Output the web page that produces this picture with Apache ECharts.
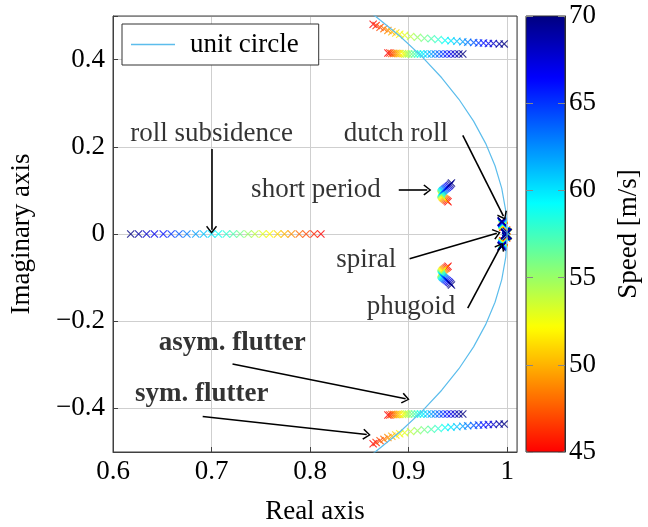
<!DOCTYPE html>
<html>
<head>
<meta charset="utf-8">
<script src="https://cdn.jsdelivr.net/npm/echarts@6/dist/echarts.min.js"></script>
<style>
  html, body { margin: 0; padding: 0; background: #fff; }
  #chart { width: 648px; height: 527px; }
</style>
</head>
<body>
<div id="chart"></div>
<script>
// speed of each computed point [m/s]
var speeds = [45, 46, 47, 48, 49, 50, 51, 52, 53, 54, 55, 56, 57, 58, 59, 60, 61, 62, 63, 64, 65, 66, 67, 68, 69, 70];

// eigenvalues per mode (real part, imaginary part), one per speed
var rollRe = [0.811, 0.804, 0.796, 0.789, 0.781, 0.774, 0.767, 0.759, 0.752, 0.744, 0.737, 0.729, 0.722,
              0.715, 0.707, 0.700, 0.692, 0.684, 0.675, 0.667, 0.659, 0.651, 0.642, 0.634, 0.626, 0.618];
var rollIm = [0, 0, 0, 0, 0, 0, 0, 0, 0, 0, 0, 0, 0, 0, 0, 0, 0, 0, 0, 0, 0, 0, 0, 0, 0, 0];

var symFlutRe = [0.864, 0.867, 0.871, 0.875, 0.879, 0.883, 0.887, 0.891, 0.896, 0.902, 0.909, 0.916, 0.923,
                 0.930, 0.937, 0.943, 0.949, 0.955, 0.960, 0.966, 0.971, 0.976, 0.981, 0.986, 0.992, 0.997];
var symFlutIm = [0.481, 0.478, 0.474, 0.471, 0.467, 0.464, 0.461, 0.458, 0.456, 0.453, 0.451, 0.449, 0.448,
                 0.446, 0.444, 0.443, 0.442, 0.441, 0.440, 0.439, 0.438, 0.438, 0.437, 0.437, 0.436, 0.436];

var asymFlutRe = [0.879, 0.881, 0.883, 0.885, 0.887, 0.889, 0.891, 0.894, 0.896, 0.898, 0.900, 0.903, 0.906,
                  0.909, 0.912, 0.915, 0.919, 0.923, 0.927, 0.931, 0.935, 0.939, 0.943, 0.947, 0.951, 0.955];
var asymFlutIm = [0.415, 0.415, 0.414, 0.414, 0.414, 0.414, 0.414, 0.414, 0.413, 0.413, 0.413, 0.413, 0.413,
                  0.413, 0.413, 0.413, 0.413, 0.413, 0.413, 0.413, 0.413, 0.413, 0.413, 0.413, 0.413, 0.413];

var shortRe = [0.9400, 0.9390, 0.9380, 0.9370, 0.9360, 0.9352, 0.9345, 0.9340, 0.9335, 0.9332, 0.9330, 0.9330, 0.9331,
               0.9333, 0.9337, 0.9342, 0.9348, 0.9355, 0.9363, 0.9372, 0.9382, 0.9393, 0.9404, 0.9415, 0.9425, 0.9435];
var shortIm = [0.0740, 0.0760, 0.0780, 0.0795, 0.0812, 0.0828, 0.0845, 0.0862, 0.0878, 0.0893, 0.0908, 0.0922, 0.0936,
               0.0950, 0.0964, 0.0978, 0.0992, 0.1006, 0.1020, 0.1036, 0.1053, 0.1072, 0.1093, 0.1115, 0.1140, 0.1170];

var dutchRe = [0.9962, 0.9962, 0.9961, 0.9961, 0.9960, 0.9960, 0.9959, 0.9959, 0.9958, 0.9957, 0.9957, 0.9956, 0.9955,
               0.9955, 0.9954, 0.9953, 0.9952, 0.9951, 0.9951, 0.9950, 0.9949, 0.9948, 0.9947, 0.9946, 0.9946, 0.9945];
var dutchIm = [0.0165, 0.0170, 0.0176, 0.0181, 0.0186, 0.0191, 0.0196, 0.0201, 0.0206, 0.0211, 0.0216, 0.0221, 0.0226,
               0.0231, 0.0236, 0.0241, 0.0246, 0.0251, 0.0256, 0.0261, 0.0266, 0.0271, 0.0276, 0.0281, 0.0285, 0.0290];

var phugRe = [0.9993, 0.9993, 0.9993, 0.9992, 0.9992, 0.9992, 0.9991, 0.9991, 0.9991, 0.9990, 0.9990, 0.9990, 0.9990,
              0.9989, 0.9989, 0.9989, 0.9989, 0.9988, 0.9988, 0.9988, 0.9987, 0.9987, 0.9987, 0.9986, 0.9986, 0.9986];
var phugIm = [0.0090, 0.0088, 0.0087, 0.0085, 0.0084, 0.0082, 0.0080, 0.0079, 0.0077, 0.0075, 0.0074, 0.0072, 0.0070,
              0.0069, 0.0067, 0.0065, 0.0064, 0.0062, 0.0061, 0.0059, 0.0058, 0.0056, 0.0054, 0.0053, 0.0051, 0.0050];

var spiralRe = [0.9996, 0.9996, 0.9996, 0.9995, 0.9995, 0.9995, 0.9995, 0.9994, 0.9994, 0.9994, 0.9994, 0.9993, 0.9993,
                0.9993, 0.9993, 0.9992, 0.9992, 0.9992, 0.9992, 0.9991, 0.9991, 0.9991, 0.9991, 0.9990, 0.9990, 0.9990];
var spiralIm = [0, 0, 0, 0, 0, 0, 0, 0, 0, 0, 0, 0, 0, 0, 0, 0, 0, 0, 0, 0, 0, 0, 0, 0, 0, 0];

// unit circle, sampled by angle in degrees
var circleDeg = [-36, -33, -30, -27, -24, -21, -18, -15, -12, -9, -6, -3, 0, 3, 6, 9, 12, 15, 18, 21, 24, 27, 30, 33, 36];

// annotations
var noteText = ['roll subsidence', 'dutch roll', 'short period', 'spiral', 'phugoid', 'asym. flutter', 'sym. flutter'];
var noteBold = [false, false, false, false, false, true, true];
var notePos = [[0.700, 0.229], [0.887, 0.229], [0.806, 0.102], [0.857, -0.060], [0.9025, -0.167], [0.721, -0.250], [0.690, -0.367]];
var arrowFrom = [[0.700, 0.195], [0.955, 0.226], [0.890, 0.101], [0.901, -0.057], [0.960, -0.170], [0.7213, -0.298], [0.691, -0.4185]];
var arrowTo = [[0.700, 0.010], [0.9962, 0.041], [0.919, 0.101], [0.9895, 0.0015], [0.9935, -0.028], [0.897, -0.378], [0.8575, -0.460]];

var jet = ['#ff0000', '#ff8000', '#ffff00', '#80ff80', '#00ffff', '#0080ff', '#0000ff', '#000080'];
var crossPath = 'path://M0,1L1,0L10,9L9,10ZM9,0L10,1L1,10L0,9Z';
var arrowHead = 'path://M5,0L10,6.5L9,7.5L5,2L1,7.5L0,6.5Z';
var FONT = 'Liberation Serif';
var FS = 27;

function pts(re, im, sign) {
    var out = [];
    for (var i = 0; i < speeds.length; i++) {
        out.push([re[i], sign * im[i], speeds[i]]);
    }
    return out;
}
function withConj(re, im) {
    return pts(re, im, 1).concat(pts(re, im, -1));
}
function fmt(v) {
    var s = String(Math.round(v * 10) / 10);
    return s.replace('-', '\u2212');
}

var modes = [
    { name: 'roll subsidence', data: pts(rollRe, rollIm, 1), size: 8 },
    { name: 'sym. flutter', data: withConj(symFlutRe, symFlutIm), size: 8 },
    { name: 'asym. flutter', data: withConj(asymFlutRe, asymFlutIm), size: 8 },
    { name: 'short period', data: withConj(shortRe, shortIm), size: 8 },
    { name: 'phugoid', data: withConj(phugRe, phugIm), size: 8 },
    { name: 'dutch roll', data: withConj(dutchRe, dutchIm), size: 9 },
    { name: 'spiral', data: pts(spiralRe, spiralIm, 1), size: 11 }
];

var series = [{
    name: 'unit circle',
    type: 'line',
    data: circleDeg.map(function (d) { return [Math.cos(d * Math.PI / 180), Math.sin(d * Math.PI / 180)]; }),
    showSymbol: false,
    lineStyle: { color: '#5cbdec', width: 1.2 },
    itemStyle: { color: '#5cbdec' },
    z: 3,
    silent: true
}];
var scatterIdx = [];
modes.forEach(function (m) {
    scatterIdx.push(series.length);
    series.push({
        name: m.name,
        type: 'scatter',
        symbol: crossPath,
        symbolSize: m.size,
        data: m.data,
        z: 2,
        silent: true
    });
});

var noteData = noteText.map(function (t, i) {
    return {
        name: t,
        value: notePos[i],
        label: { fontWeight: noteBold[i] ? 'bold' : 'normal' }
    };
});
var arrowData = arrowFrom.map(function (a, i) {
    return [{ coord: a }, { coord: arrowTo[i] }];
});
series.push({
    name: 'notes',
    type: 'scatter',
    symbolSize: 1,
    itemStyle: { color: 'rgba(0,0,0,0)' },
    data: noteData,
    z: 5,
    silent: true,
    label: {
        show: true,
        position: 'inside',
        formatter: '{b}',
        fontFamily: FONT,
        fontSize: FS,
        color: '#000'
    },
    markLine: {
        silent: true,
        animation: false,
        symbol: ['none', arrowHead],
        symbolSize: [11, 8],
        label: { show: false },
        lineStyle: { color: '#000', width: 1.6, type: 'solid' },
        emphasis: { disabled: true },
        data: arrowData
    }
});

var option = {
    animation: false,
    backgroundColor: '#fff',
    textStyle: { fontFamily: FONT, color: '#000' },
    grid: [
        { left: 113, right: 131, top: 16, bottom: 75, show: true, borderColor: '#404040', borderWidth: 1, z: 1, outerBoundsMode: 'none' },
        { left: 526, width: 39, top: 16, height: 436, show: true, borderColor: '#303030', borderWidth: 1, backgroundColor: 'transparent', z: 6, outerBoundsMode: 'none' }
    ],
    legend: {
        left: 122,
        top: 24,
        padding: [7, 20, 7, 9],
        backgroundColor: '#fff',
        borderColor: '#333',
        borderWidth: 1,
        itemWidth: 44,
        itemHeight: 1.5,
        data: [{ name: 'unit circle', icon: 'rect' }],
        textStyle: { fontFamily: FONT, fontSize: FS, color: '#000', padding: [0, 0, 0, 10] },
        selectedMode: false
    },
    xAxis: [{
        type: 'value',
        gridIndex: 0,
        min: 0.6,
        max: 1.01,
        interval: 0.1,
        name: 'Real axis',
        nameLocation: 'middle',
        nameGap: 46,
        nameTextStyle: { fontFamily: FONT, fontSize: FS, color: '#000' },
        axisLine: { show: true, onZero: false, lineStyle: { color: '#404040' } },
        axisTick: { show: true, inside: true, length: 5, lineStyle: { color: '#404040' } },
        splitLine: { show: true, lineStyle: { color: '#cfcfcf', width: 1 } },
        axisLabel: {
            fontFamily: FONT, fontSize: FS, color: '#000', margin: 6, showMaxLabel: false,
            formatter: function (v) { return v > 1.001 ? '' : fmt(v); }
        }
    }, {
        type: 'value',
        gridIndex: 1,
        show: false,
        min: 0,
        max: 1
    }],
    yAxis: [{
        type: 'value',
        gridIndex: 0,
        min: -0.5,
        max: 0.5,
        splitNumber: 5,
        name: 'Imaginary axis',
        nameLocation: 'middle',
        nameGap: 78,
        nameRotate: 90,
        nameTextStyle: { fontFamily: FONT, fontSize: FS, color: '#000' },
        axisLine: { show: true, onZero: false, lineStyle: { color: '#404040' } },
        axisTick: { show: true, inside: true, length: 5, lineStyle: { color: '#404040' } },
        splitLine: { show: true, lineStyle: { color: '#cfcfcf', width: 1 } },
        axisLabel: {
            fontFamily: FONT, fontSize: FS, color: '#000', margin: 8,
            formatter: function (v) { return Math.abs(v) > 0.45 ? '' : fmt(v); }
        }
    }, {
        type: 'value',
        gridIndex: 1,
        position: 'right',
        min: 45,
        max: 70,
        interval: 5,
        name: 'Speed [m/s]',
        nameLocation: 'middle',
        nameGap: 50,
        nameRotate: 90,
        nameTextStyle: { fontFamily: FONT, fontSize: FS, color: '#000' },
        axisLine: { show: true, onZero: false, lineStyle: { color: '#303030' } },
        axisTick: { show: false },
        // gray ticks on both inner edges of the colour bar
        splitLine: { show: true, lineStyle: { color: '#888', width: 1, type: [7, 25] } },
        axisLabel: { fontFamily: FONT, fontSize: FS, color: '#000', margin: 4 },
        z: 6
    }],
    visualMap: {
        type: 'continuous',
        min: 45,
        max: 70,
        dimension: 2,
        seriesIndex: scatterIdx,
        inRange: { color: jet },
        left: 526,
        top: 16,
        itemWidth: 39,
        itemHeight: 436,
        padding: 0,
        calculable: false,
        hoverLink: false,
        z: 1
    },
    series: series
};

var myChart = echarts.init(document.getElementById('chart'), null, { renderer: 'canvas' });
myChart.setOption(option);
</script>
</body>
</html>
